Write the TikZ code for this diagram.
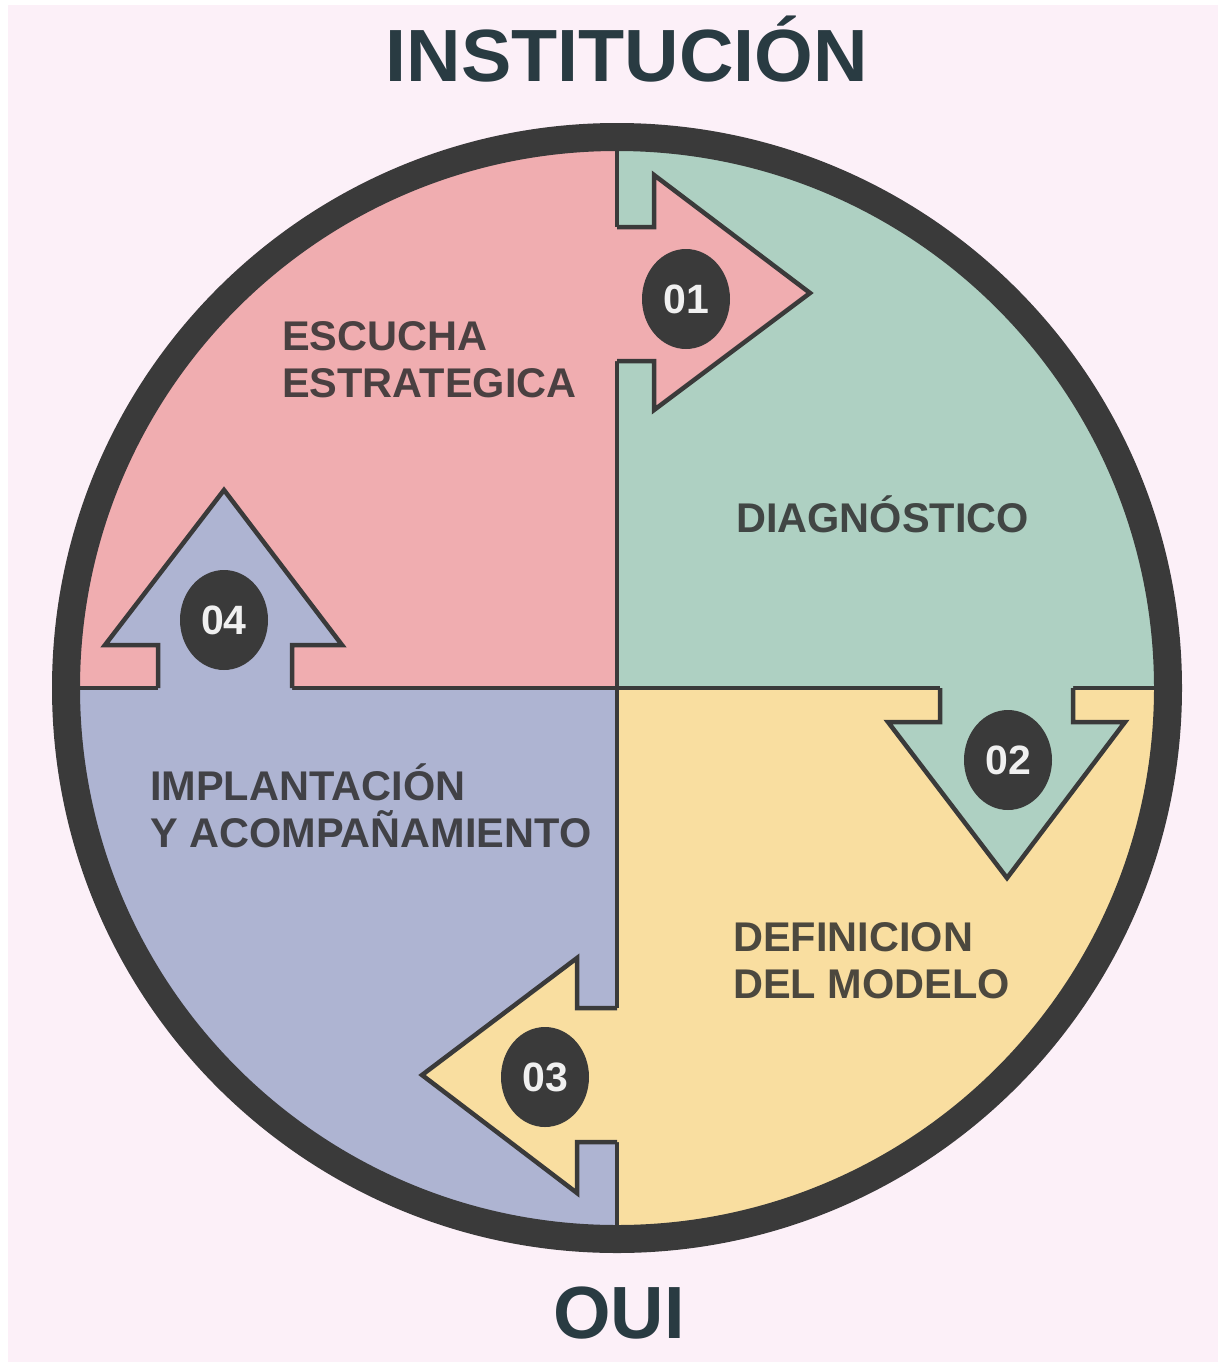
\documentclass[tikz,border=0pt]{standalone}
\usepackage{fontspec}
\setmainfont{Liberation Sans}
\usetikzlibrary{shapes.geometric}
\definecolor{bgpink}{HTML}{FCF0F8}
\definecolor{qpink}{HTML}{F0ADB0}
\definecolor{qgreen}{HTML}{AED0C2}
\definecolor{qyellow}{HTML}{F9DEA0}
\definecolor{qblue}{HTML}{AEB4D2}
\definecolor{ringdark}{HTML}{3A3A3A}
\definecolor{titlecol}{HTML}{293B42}
\definecolor{labelcol}{HTML}{2E2E2E}
\tikzset{
  divider/.style={draw=ringdark, line width=4pt},
  arrowline/.style={draw=ringdark, line width=4.5pt, line join=miter, line cap=butt},
  ringline/.style={draw=ringdark, line width=28pt},
  badge/.style={ellipse, fill=ringdark, minimum width=88pt, minimum height=100pt, inner sep=0pt,
    text=white!94!black, font=\bfseries\fontsize{41}{41}\selectfont},
  quadlabel/.style={anchor=base west, inner sep=0pt, align=left, text=labelcol, text opacity=0.85,
    font=\bfseries\fontsize{41.5}{46.5}\selectfont},
  title/.style={anchor=base, inner sep=0pt, text=titlecol, font=\bfseries\fontsize{74}{74}\selectfont}
}
\begin{document}
\begin{tikzpicture}[x=1pt,y=-1pt]
\useasboundingbox (0,0) rectangle (1218,1368);
\fill[white] (0,0) rectangle (1218,1368);
\fill[bgpink] (8,5) rectangle (1218,1362);
\coordinate (C) at (617,688);
% quadrants
\begin{scope}
  \clip (C) circle[radius=551pt];
  \fill[qpink] (0,0) rectangle (617,688);
  \fill[qgreen] (617,0) rectangle (1218,688);
  \fill[qyellow] (617,688) rectangle (1218,1368);
  \fill[qblue] (0,688) rectangle (617,1368);
  \draw[divider] (617,100) -- (617,1280);
  \draw[divider] (30,688) -- (1200,688);
\end{scope}
% arrow 01 (right)
\fill[qpink] (600,227) -- (654,227) -- (654,175) -- (810,293) -- (654,410) -- (654,361) -- (600,361) -- cycle;
\draw[arrowline] (617,227) -- (654,227) -- (654,175) -- (810,293) -- (654,410) -- (654,361) -- (617,361);
% arrow 02 (down)
\fill[qgreen] (940,670) -- (940,722) -- (888,722) -- (1007,878) -- (1125,722) -- (1073,722) -- (1073,670) -- cycle;
\draw[arrowline] (940,688) -- (940,722) -- (888,722) -- (1007,878) -- (1125,722) -- (1073,722) -- (1073,688);
% arrow 03 (left)
\fill[qyellow] (635,1008) -- (577,1008) -- (577,958) -- (422,1075) -- (577,1193) -- (577,1142) -- (635,1142) -- cycle;
\draw[arrowline] (617,1008) -- (577,1008) -- (577,958) -- (422,1075) -- (577,1193) -- (577,1142) -- (617,1142);
% arrow 04 (up)
\fill[qblue] (158,705) -- (158,645) -- (105,645) -- (224,490) -- (342,645) -- (292,645) -- (292,705) -- cycle;
\draw[arrowline] (158,688) -- (158,645) -- (105,645) -- (224,490) -- (342,645) -- (292,645) -- (292,688);
% ring
\draw[ringline] (C) circle[radius=551pt];
% badges
\node[badge] (b1) at (686,299) {01};
\node[badge] (b2) at (1008,760) {02};
\node[badge] (b3) at (545,1077) {03};
\node[badge] (b4) at (224,620) {04};
% labels (anchored at the baseline of the last line)
\node[quadlabel] (l1) at (282,397) {ESCUCHA\\ESTRATEGICA};
\node[quadlabel] (l2) at (736,532) {DIAGNÓSTICO};
\node[quadlabel] (l3) at (150,847) {IMPLANTACIÓN\\Y ACOMPAÑAMIENTO};
\node[quadlabel] (l4) at (733,998) {DEFINICION\\DEL MODELO};
% titles
\node[title, xscale=1.02] (t1) at (627,81) {INSTITUCIÓN};
\node[title] (t2) at (619,1338) {OUI};
\end{tikzpicture}
\end{document}
